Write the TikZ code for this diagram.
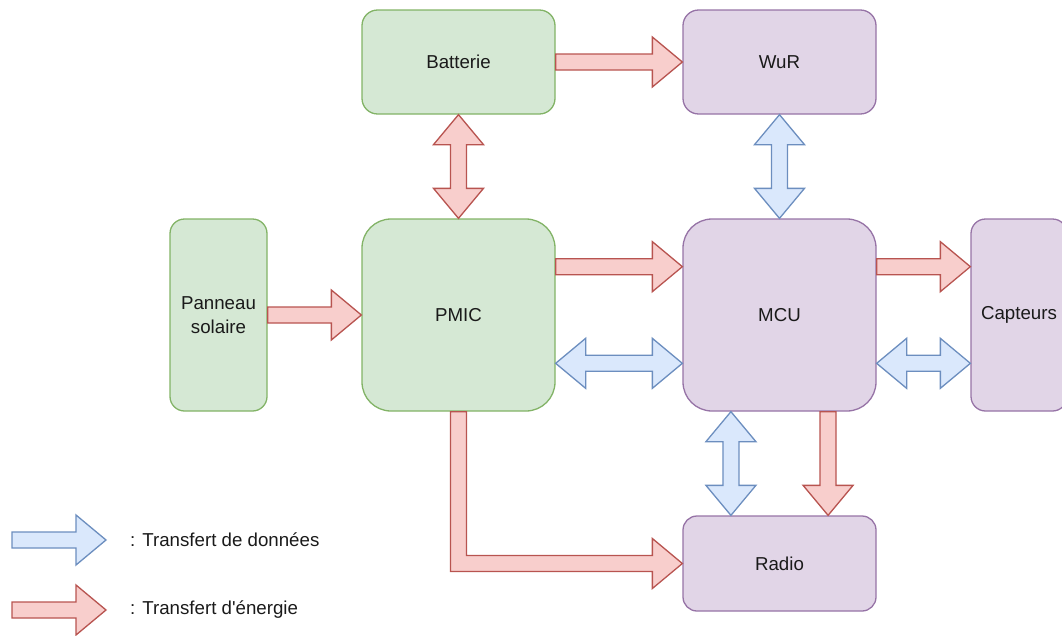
\documentclass[tikz,border=0pt]{standalone}
\usepackage{fontspec}
\newfontfamily\lsans{Liberation Sans}
\usetikzlibrary{calc}
\definecolor{gfill}{HTML}{D5E8D4}
\definecolor{gline}{HTML}{82B366}
\definecolor{pfill}{HTML}{E1D5E7}
\definecolor{pline}{HTML}{9673A6}
\definecolor{rfill}{HTML}{F8CECC}
\definecolor{rline}{HTML}{B85450}
\definecolor{bfill}{HTML}{DAE8FC}
\definecolor{bline}{HTML}{6C8EBF}
\definecolor{txt}{HTML}{1A1A1A}
\tikzset{
  box/.style={draw, line width=1.3pt, inner sep=0pt, align=center, text=txt,
    font=\lsans\fontsize{18.7}{23.5}\selectfont},
  gbox/.style={box, fill=gfill, draw=gline},
  pbox/.style={box, fill=pfill, draw=pline},
  earrow/.style={fill=rfill, draw=rline, line width=1.3pt, line join=miter},
  darrow/.style={fill=bfill, draw=bline, line width=1.3pt, line join=miter},
  legtext/.style={anchor=west, inner sep=0pt, text=txt, font=\lsans\fontsize{18.7}{23.5}\selectfont},
}
% single-headed block arrow from #2 to #3
\newcommand\flexone[3]{%
  \path (#2); \pgfgetlastxy{\fax}{\fay}%
  \path (#3); \pgfgetlastxy{\fbx}{\fby}%
  \pgfmathsetmacro\fang{atan2(\fby-\fay,\fbx-\fax)}%
  \pgfmathsetmacro\flen{veclen(\fbx-\fax,\fby-\fay)}%
  \begin{scope}[shift={(\fax,\fay)}, rotate=\fang, x=1pt, y=1pt]
    \filldraw[#1] (0,-8) -- (\flen-30,-8) -- (\flen-30,-25) -- (\flen,0)
      -- (\flen-30,25) -- (\flen-30,8) -- (0,8) -- cycle;
  \end{scope}}
% double-headed block arrow between #2 and #3
\newcommand\flextwo[3]{%
  \path (#2); \pgfgetlastxy{\fax}{\fay}%
  \path (#3); \pgfgetlastxy{\fbx}{\fby}%
  \pgfmathsetmacro\fang{atan2(\fby-\fay,\fbx-\fax)}%
  \pgfmathsetmacro\flen{veclen(\fbx-\fax,\fby-\fay)}%
  \begin{scope}[shift={(\fax,\fay)}, rotate=\fang, x=1pt, y=1pt]
    \filldraw[#1] (0,0) -- (30,-25) -- (30,-8) -- (\flen-30,-8) -- (\flen-30,-25) -- (\flen,0)
      -- (\flen-30,25) -- (\flen-30,8) -- (30,8) -- (30,25) -- cycle;
  \end{scope}}
\begin{document}
\begin{tikzpicture}[x=1pt, y=-1pt]
\useasboundingbox (0,0) rectangle (1062,635);
\clip (0,0) rectangle (1062,635);

\node[gbox, minimum width=193pt, minimum height=104pt, rounded corners=15.6pt] (bat) at (458.5,62) {Batterie};
\node[pbox, minimum width=193pt, minimum height=104pt, rounded corners=15.6pt] (wur) at (779.5,62) {WuR};
\node[gbox, minimum width=97pt, minimum height=192pt, rounded corners=14.5pt] (pan) at (218.5,315) {Panneau\\solaire};
\node[gbox, minimum width=193pt, minimum height=192pt, rounded corners=29pt] (pmic) at (458.5,315) {PMIC};
\node[pbox, minimum width=193pt, minimum height=192pt, rounded corners=29pt] (mcu) at (779.5,315) {MCU};
\node[pbox, minimum width=96pt, minimum height=192pt, rounded corners=14.5pt] (cap) at (1019,315) {Capteurs};
\node[pbox, minimum width=193pt, minimum height=95pt, rounded corners=14pt] (radio) at (779.5,563.5) {Radio};

% energy transfers
\flexone{earrow}{bat.east}{wur.west}
\flextwo{earrow}{bat.south}{pmic.north}
\flexone{earrow}{pan.east}{pmic.west}
\flexone{earrow}{$(pmic.north east)!0.25!(pmic.south east)$}{$(mcu.north west)!0.25!(mcu.south west)$}
\flexone{earrow}{$(mcu.north east)!0.25!(mcu.south east)$}{$(cap.north west)!0.25!(cap.south west)$}
\flexone{earrow}{$(mcu.south west)!0.75!(mcu.south east)$}{$(radio.north west)!0.75!(radio.north east)$}
\filldraw[earrow] let \p1=(pmic.south), \p2=(radio.west) in
  (\x1-8pt,\y1) -- (\x1-8pt,\y2-8pt) -- (\x2-30pt,\y2-8pt) -- (\x2-30pt,\y2-25pt)
  -- (\x2,\y2) -- (\x2-30pt,\y2+25pt) -- (\x2-30pt,\y2+8pt) -- (\x1+8pt,\y2+8pt)
  -- (\x1+8pt,\y1) -- cycle;

% data transfers
\flextwo{darrow}{wur.south}{mcu.north}
\flextwo{darrow}{$(pmic.north east)!0.75!(pmic.south east)$}{$(mcu.north west)!0.75!(mcu.south west)$}
\flextwo{darrow}{$(mcu.north east)!0.75!(mcu.south east)$}{$(cap.north west)!0.75!(cap.south west)$}
\flextwo{darrow}{$(mcu.south west)!0.25!(mcu.south east)$}{$(radio.north west)!0.25!(radio.north east)$}

% legend
\coordinate (l1s) at (12,540);
\coordinate (l1e) at (106,540);
\coordinate (l2s) at (12,610);
\coordinate (l2e) at (106,610);
\flexone{darrow}{l1s}{l1e}
\flexone{earrow}{l2s}{l2e}
\node[legtext] (lt1) at (130,540) {: Transfert de données};
\node[legtext] (lt2) at (130,610) {: Transfert d'énergie};
\end{tikzpicture}
\end{document}
